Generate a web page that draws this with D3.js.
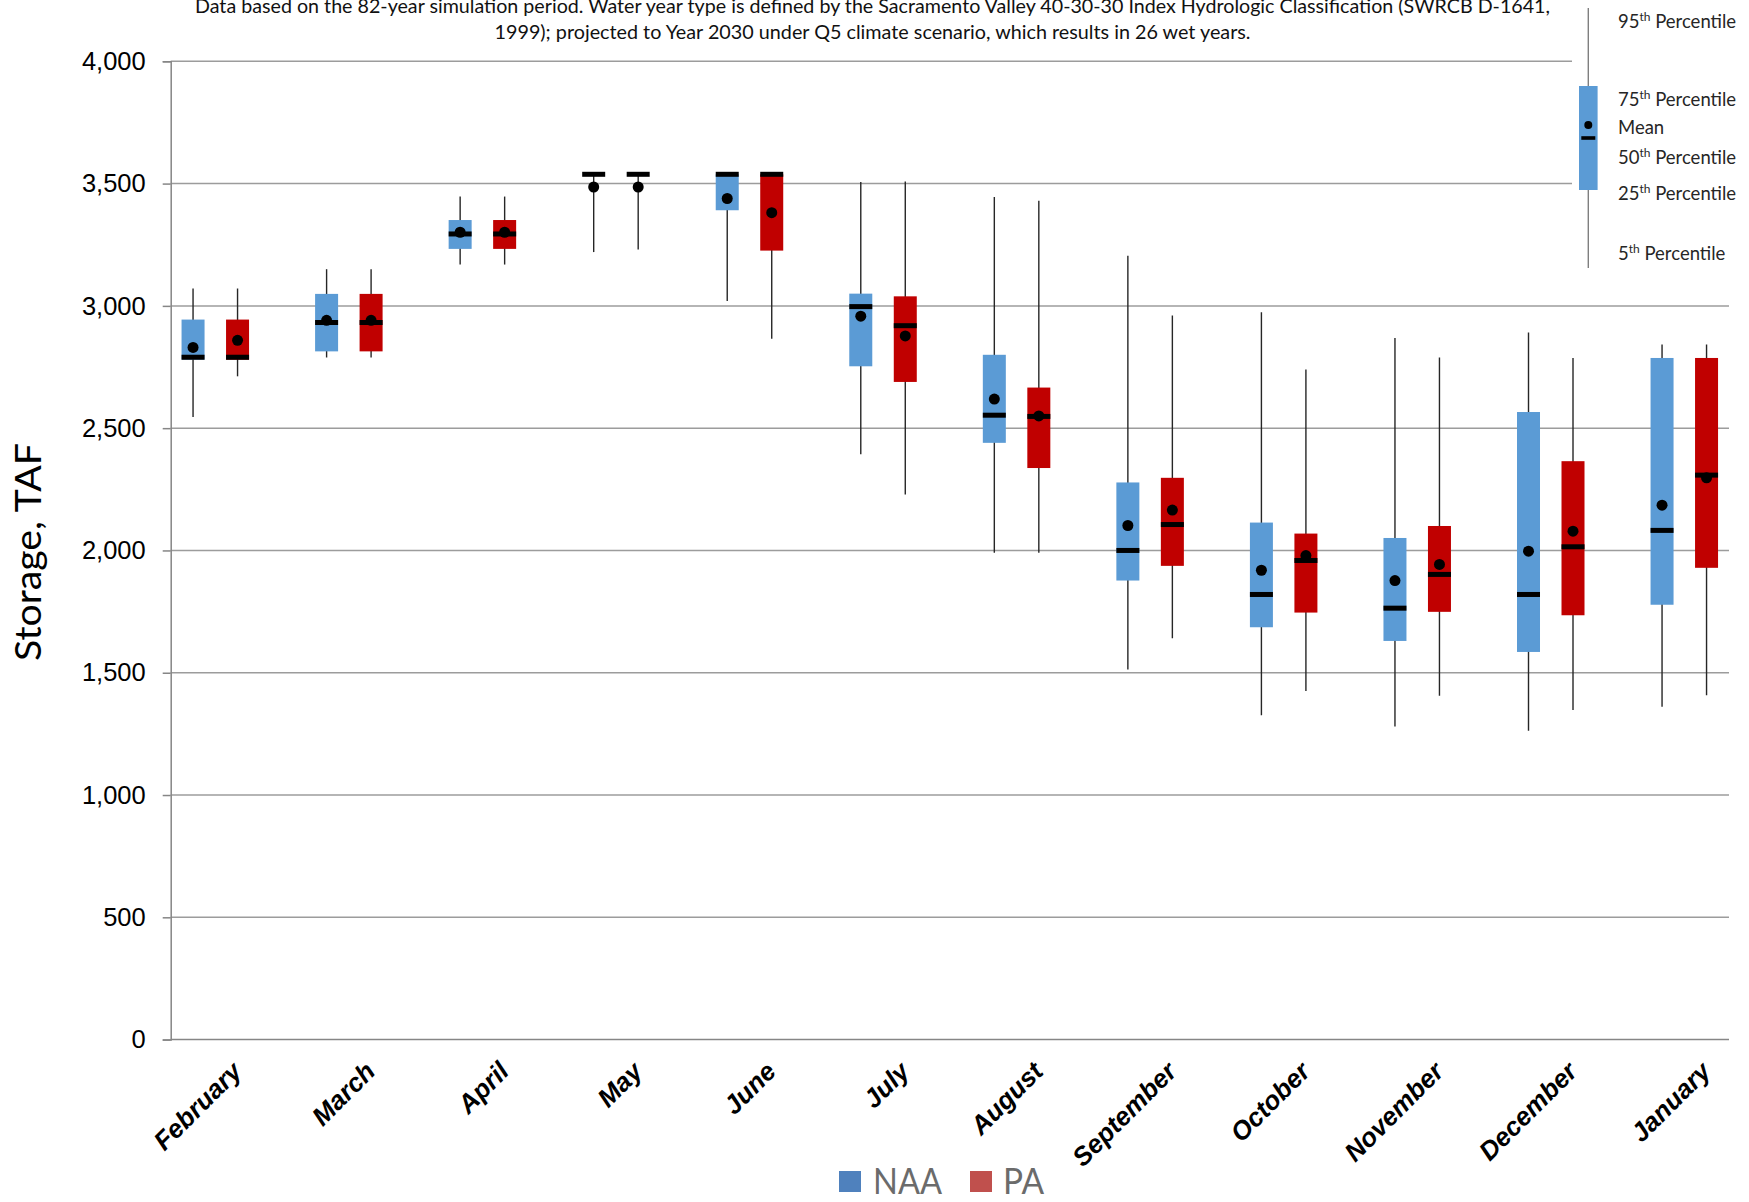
<!DOCTYPE html>
<html>
<head>
<meta charset="utf-8">
<script src="https://cdn.jsdelivr.net/npm/d3@7"></script>
<style>
  html, body { margin: 0; padding: 0; background: #fff; }
  svg { display: block; }
</style>
</head>
<body>
<script>
// ---------------- DATA ----------------
const months = ["February","March","April","May","June","July","August","September","October","November","December","January"];
const seriesNames = ["NAA", "PA"];
const yTicks = [0, 500, 1000, 1500, 2000, 2500, 3000, 3500, 4000];

// NAA percentiles / mean (TAF)
const naaP5   = [2546, 2789, 3169, 3220, 3020, 2393, 1991, 1513, 1326, 1280, 1263, 1361];
const naaP25  = [2780, 2814, 3233, 3538, 3391, 2753, 2440, 1877, 1686, 1630, 1585, 1778];
const naaP50  = [2790, 2932, 3294, 3538, 3538, 2997, 2553, 2000, 1820, 1764, 1820, 2082];
const naaMean = [2830, 2941, 3301, 3486, 3439, 2958, 2619, 2102, 1919, 1877, 1997, 2185];
const naaP75  = [2944, 3049, 3351, 3538, 3538, 3050, 2800, 2278, 2114, 2051, 2566, 2787];
const naaP95  = [3071, 3150, 3447, 3538, 3538, 3507, 3445, 3205, 2974, 2869, 2891, 2842];

// PA percentiles / mean (TAF)
const paP5   = [2712, 2789, 3169, 3230, 2866, 2229, 1991, 1641, 1425, 1406, 1348, 1408];
const paP25  = [2780, 2814, 3233, 3538, 3226, 2689, 2337, 1937, 1746, 1749, 1735, 1929];
const paP50  = [2790, 2932, 3294, 3538, 3538, 2919, 2548, 2106, 1959, 1902, 2015, 2308];
const paMean = [2859, 2941, 3301, 3486, 3381, 2877, 2550, 2165, 1979, 1943, 2079, 2297];
const paP75  = [2944, 3049, 3351, 3538, 3538, 3039, 2666, 2297, 2069, 2100, 2365, 2787];
const paP95  = [3071, 3150, 3447, 3538, 3538, 3509, 3430, 2961, 2740, 2789, 2787, 2842];

// schematic legend sample (relative units 0..100)
const legendSample = { p5: 0, p25: 30, p50: 50, mean: 55, p75: 70, p95: 100 };

const titleLines = [
  "Data based on the 82-year simulation period.  Water year type is defined by the Sacramento Valley 40-30-30 Index Hydrologic Classification (SWRCB D-1641,",
  "1999); projected to Year 2030 under Q5 climate scenario, which results in 26 wet years."
];

// ---------------- LAYOUT ----------------
const W = 1749, H = 1202;
const plotLeft = 170.7, plotRight = 1729;
const yTop = 61.3, yBottom = 1039.6;
const boxW = 23, pairOffset = 22.25;
const colors = { NAA: "#5b9bd5", PA: "#c00000" };
const legendColors = { NAA: "#4f81bd", PA: "#c0504d" };

const svg = d3.select("body").append("svg").attr("width", W).attr("height", H);

const y = d3.scaleLinear().domain([0, 4000]).range([yBottom, yTop]);
const x = d3.scalePoint().domain(months).range([215.3, 1684.3]);
const sx = d3.scaleBand().domain(seriesNames).range([-2 * pairOffset, 2 * pairOffset]).paddingInner(0).paddingOuter(0);
const sOff = s => sx(s) + sx.bandwidth() / 2;

// ---- gridlines ----
svg.append("g").selectAll("line").data(yTicks.filter(d => d > 0)).join("line")
  .attr("x1", plotLeft).attr("x2", plotRight)
  .attr("y1", d => y(d)).attr("y2", d => y(d))
  .attr("stroke", "#9c9c9c").attr("stroke-width", 1.5);

// ---- x axis line ----
svg.append("line").attr("x1", plotLeft).attr("x2", plotRight)
  .attr("y1", y(0)).attr("y2", y(0)).attr("stroke", "#868686").attr("stroke-width", 1.5);

// ---- y axis ----
const yAxis = d3.axisLeft(y).tickValues(yTicks).tickFormat(d3.format(",")).tickSize(8).tickPadding(17);
const gy = svg.append("g").attr("transform", `translate(${plotLeft},0)`).call(yAxis);
gy.select(".domain").attr("stroke", "#868686").attr("stroke-width", 1.5);
gy.selectAll(".tick line").attr("stroke", "#868686").attr("stroke-width", 1.5);
gy.selectAll(".tick text").attr("font-family", "'Liberation Sans', Arial, sans-serif")
  .attr("font-size", 25.5).attr("fill", "#000");

// ---- boxes ----
function buildSeries(name, p5, p25, p50, mean, p75, p95) {
  return months.map((m, i) => ({ month: m, series: name, p5: p5[i], p25: p25[i], p50: p50[i], mean: mean[i], p75: p75[i], p95: p95[i] }));
}
const allData = buildSeries("NAA", naaP5, naaP25, naaP50, naaMean, naaP75, naaP95)
  .concat(buildSeries("PA", paP5, paP25, paP50, paMean, paP75, paP95));

const gBox = svg.append("g");
const cxOf = d => x(d.month) + sOff(d.series);

gBox.selectAll("line.whisker").data(allData).join("line").attr("class", "whisker")
  .attr("x1", cxOf).attr("x2", cxOf)
  .attr("y1", d => y(d.p95)).attr("y2", d => y(d.p5))
  .attr("stroke", "#262626").attr("stroke-width", 1.4);

gBox.selectAll("rect.box").data(allData.filter(d => d.p75 > d.p25)).join("rect").attr("class", "box")
  .attr("x", d => cxOf(d) - boxW / 2).attr("width", boxW)
  .attr("y", d => y(d.p75)).attr("height", d => y(d.p25) - y(d.p75))
  .attr("fill", d => colors[d.series]);

gBox.selectAll("rect.median").data(allData).join("rect").attr("class", "median")
  .attr("x", d => cxOf(d) - boxW / 2).attr("width", boxW)
  .attr("y", d => y(d.p50) - 2.5).attr("height", 5)
  .attr("fill", "#000");

gBox.selectAll("circle.mean").data(allData).join("circle").attr("class", "mean")
  .attr("cx", cxOf).attr("cy", d => y(d.mean)).attr("r", 5.5)
  .attr("fill", "#000");

// ---- month labels ----
svg.append("g").selectAll("text").data(months).join("text")
  .attr("transform", d => `translate(${x(d) + 28},${1073}) rotate(-45)`)
  .attr("text-anchor", "end")
  .attr("font-family", "'Liberation Sans', Arial, sans-serif")
  .attr("font-weight", "bold").attr("font-style", "italic")
  .attr("font-size", 26).attr("fill", "#000")
  .text(d => d);

// ---- y axis title ----
svg.append("text")
  .attr("transform", "translate(41,552) rotate(-90)")
  .attr("text-anchor", "middle")
  .attr("font-family", "Lato, 'Open Sans', sans-serif")
  .attr("font-size", 36).attr("fill", "#000")
  .attr("textLength", 218).attr("lengthAdjust", "spacingAndGlyphs")
  .text("Storage, TAF");

// ---- title lines ----
const titleWidths = [1355, 756];
svg.append("g").selectAll("text").data(titleLines).join("text")
  .attr("x", 872.5).attr("y", (d, i) => 12.5 + i * 26.8)
  .attr("text-anchor", "middle")
  .attr("font-family", "Lato, 'Open Sans', sans-serif")
  .attr("font-size", 20).attr("fill", "#111")
  .attr("textLength", (d, i) => titleWidths[i]).attr("lengthAdjust", "spacingAndGlyphs")
  .text(d => d);

// ---- schematic legend (top right) ----
svg.append("rect").attr("x", 1572).attr("y", 0).attr("width", W - 1572).attr("height", 278).attr("fill", "#fff");
const ly = d3.scaleLinear().domain([0, 100]).range([268, 8]);
const lx = 1588.3;
const gl = svg.append("g");
gl.append("line").attr("x1", lx).attr("x2", lx).attr("y1", ly(legendSample.p95)).attr("y2", ly(legendSample.p5))
  .attr("stroke", "#7f7f7f").attr("stroke-width", 1.4);
gl.append("rect").attr("x", lx - 9.3).attr("width", 18.6)
  .attr("y", ly(legendSample.p75)).attr("height", ly(legendSample.p25) - ly(legendSample.p75))
  .attr("fill", colors.NAA);
gl.append("rect").attr("x", lx - 7).attr("width", 14).attr("y", ly(legendSample.p50) - 1.8).attr("height", 3.6).attr("fill", "#000");
gl.append("circle").attr("cx", lx).attr("cy", ly(legendSample.mean)).attr("r", 4).attr("fill", "#000");

const legendLabels = [
  { num: "95", sup: "th", rest: " Percentile", base: 28.3 },
  { num: "75", sup: "th", rest: " Percentile", base: 105.5 },
  { num: "Mean", sup: "", rest: "", base: 134 },
  { num: "50", sup: "th", rest: " Percentile", base: 164 },
  { num: "25", sup: "th", rest: " Percentile", base: 200 },
  { num: "5", sup: "th", rest: " Percentile", base: 260 }
];
const lt = gl.selectAll("text").data(legendLabels).join("text")
  .attr("x", 1618).attr("y", d => d.base)
  .attr("font-family", "Lato, 'Open Sans', sans-serif")
  .attr("font-size", 18.5).attr("fill", "#262626");
lt.append("tspan").text(d => d.num);
lt.filter(d => d.sup).append("tspan").attr("dy", -7).attr("font-size", 12).text(d => d.sup);
lt.filter(d => d.sup).append("tspan").attr("dy", 7).text(d => d.rest);

// ---- bottom legend ----
const legendItems = [
  { name: "NAA", sqX: 839, txX: 873, w: 69 },
  { name: "PA", sqX: 970, txX: 1003, w: 41 }
];
const gb = svg.append("g");
gb.selectAll("rect").data(legendItems).join("rect")
  .attr("x", d => d.sqX).attr("y", 1171).attr("width", 22).attr("height", 21)
  .attr("fill", d => legendColors[d.name]);
gb.selectAll("text").data(legendItems).join("text")
  .attr("x", d => d.txX).attr("y", 1193.5)
  .attr("font-family", "Lato, 'Open Sans', sans-serif")
  .attr("font-size", 36).attr("fill", "#6b6b6b")
  .attr("textLength", d => d.w).attr("lengthAdjust", "spacingAndGlyphs")
  .text(d => d.name);
</script>
</body>
</html>
